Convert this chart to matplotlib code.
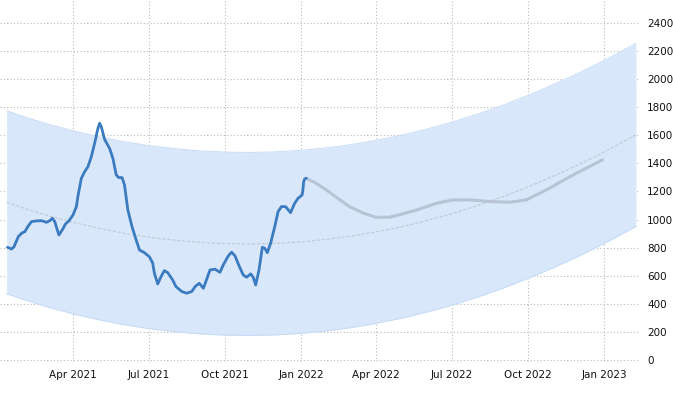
import matplotlib.pyplot as plt
import matplotlib.dates as mdates
import pandas as pd

# history (blue)
hist_dates = ["2021-01-12", "2021-01-17", "2021-01-20", "2021-01-25", "2021-01-29",
              "2021-02-02", "2021-02-06", "2021-02-10", "2021-02-16", "2021-02-22",
              "2021-02-28", "2021-03-04", "2021-03-07", "2021-03-10", "2021-03-13",
              "2021-03-15", "2021-03-19", "2021-03-23", "2021-03-27", "2021-04-01",
              "2021-04-05", "2021-04-07", "2021-04-11", "2021-04-15", "2021-04-19",
              "2021-04-23", "2021-04-27", "2021-05-01", "2021-05-03", "2021-05-05",
              "2021-05-09", "2021-05-15", "2021-05-19", "2021-05-23", "2021-05-26",
              "2021-05-30", "2021-06-02", "2021-06-06", "2021-06-11", "2021-06-16",
              "2021-06-20", "2021-06-26", "2021-07-02", "2021-07-06", "2021-07-08",
              "2021-07-12", "2021-07-16", "2021-07-20", "2021-07-24", "2021-07-30",
              "2021-08-03", "2021-08-10", "2021-08-16", "2021-08-22", "2021-08-26",
              "2021-08-31", "2021-09-05", "2021-09-09", "2021-09-13", "2021-09-19",
              "2021-09-25", "2021-09-29", "2021-10-05", "2021-10-09", "2021-10-13",
              "2021-10-18", "2021-10-23", "2021-10-27", "2021-11-01", "2021-11-04",
              "2021-11-07", "2021-11-11", "2021-11-15", "2021-11-18", "2021-11-21",
              "2021-11-25", "2021-11-30", "2021-12-04", "2021-12-08", "2021-12-13",
              "2021-12-19", "2021-12-24", "2021-12-28", "2022-01-02", "2022-01-03",
              "2022-01-03T18:00", "2022-01-05", "2022-01-07"]
hist_values = [802, 790, 807, 878, 902,
               914, 954, 985, 990, 992,
               980, 992, 1009, 985, 926,
               890, 926, 969, 990, 1033,
               1092, 1170, 1294, 1341, 1377,
               1448, 1543, 1650, 1686, 1662,
               1571, 1507, 1436, 1318, 1299,
               1299, 1246, 1068, 950, 855,
               783, 764, 734, 689, 617,
               541, 593, 636, 622, 570,
               522, 487, 475, 487, 522,
               546, 510, 575, 641, 646,
               624, 677, 741, 767, 742,
               670, 605, 589, 613, 589,
               534, 641, 802, 795, 764,
               831, 950, 1056, 1092, 1092,
               1049, 1116, 1151, 1175, 1215,
               1268, 1289, 1294]

# forecast (grey)
fc_dates = ["2022-01-07", "2022-01-19", "2022-01-31", "2022-02-14", "2022-02-28",
            "2022-03-17", "2022-04-01", "2022-04-17", "2022-05-03", "2022-05-20",
            "2022-06-13", "2022-07-03", "2022-07-23", "2022-08-16", "2022-09-09",
            "2022-09-29", "2022-10-15", "2022-10-27", "2022-11-12", "2022-11-28",
            "2022-12-14", "2022-12-30"]
fc_values = [1294, 1258, 1211, 1151, 1092,
             1045, 1016, 1016, 1040, 1068,
             1116, 1140, 1140, 1128, 1123,
             1140, 1187, 1223, 1277, 1329,
             1377, 1425]

# trend line and band
trend_dates = ["2021-01-11", "2021-02-01", "2021-03-01", "2021-04-01", "2021-05-01",
               "2021-06-01", "2021-07-01", "2021-08-01", "2021-09-01", "2021-10-01",
               "2021-11-01", "2021-12-01", "2022-01-01", "2022-02-01", "2022-03-01",
               "2022-04-01", "2022-05-01", "2022-06-01", "2022-07-01", "2022-08-01",
               "2022-09-01", "2022-10-01", "2022-11-01", "2022-12-01", "2023-01-01",
               "2023-02-01", "2023-02-08"]
trend_values = [1123, 1080, 1029, 980, 939, 903, 875, 853, 837, 828, 826, 830, 841,
                859, 881, 912, 948, 992, 1041, 1099, 1163, 1232, 1310, 1391, 1482,
                1580, 1604]
band_upper = [1775, 1732, 1681, 1632, 1591, 1555, 1527, 1505, 1489, 1480, 1478, 1482,
              1493, 1511, 1533, 1564, 1600, 1644, 1693, 1751, 1815, 1884, 1962, 2043,
              2134, 2232, 2256]
band_lower = [471, 428, 377, 328, 287, 251, 223, 201, 185, 176, 174, 178, 189, 207,
              229, 260, 296, 340, 389, 447, 511, 580, 658, 739, 830, 928, 952]

y_ticks = list(range(0, 2401, 200))

hd = pd.to_datetime(hist_dates, format="ISO8601")
fd = pd.to_datetime(fc_dates)
td = pd.to_datetime(trend_dates)

fig = plt.figure(figsize=(6.73, 3.93), dpi=100)
ax = fig.add_axes([0, 0.0789, 0.951, 0.9211])

ax.fill_between(td, band_lower, band_upper, color="#d8e7fa", lw=0, zorder=1)
ax.plot(td, band_upper, color="#c6dcf8", lw=0.7, zorder=1)
ax.plot(td, band_lower, color="#c6dcf8", lw=0.7, zorder=1)
ax.plot(td, trend_values, color="#c3c9d2", lw=0.8, ls=(0, (3, 1.5)), zorder=2)
ax.plot(fd, fc_values, color="#b8c3d3", lw=2.2, zorder=3,
        solid_capstyle="round", solid_joinstyle="round")
ax.plot(hd, hist_values, color="#3b7bc0", lw=2.0, zorder=4,
        solid_capstyle="round", solid_joinstyle="round")

ax.set_xlim(pd.Timestamp("2021-01-03"), pd.Timestamp("2023-02-13"))
ax.set_ylim(-15, 2564)
ax.set_yticks(y_ticks)
ax.yaxis.tick_right()

ticks = pd.date_range("2021-04-01", "2023-01-01", freq="QS")
ax.set_xticks(ticks)
ax.xaxis.set_major_formatter(mdates.DateFormatter("%b %Y"))

ax.tick_params(axis="both", length=0, labelsize=7.5, colors="#111111")
ax.tick_params(axis="y", pad=5)
ax.tick_params(axis="x", pad=6)

ax.grid(True, linestyle=(0, (1, 2)), color="#bbbbbb", lw=0.8)
ax.set_axisbelow(True)
for s in ax.spines.values():
    s.set_visible(False)

fig.savefig("out.png", dpi=100)
